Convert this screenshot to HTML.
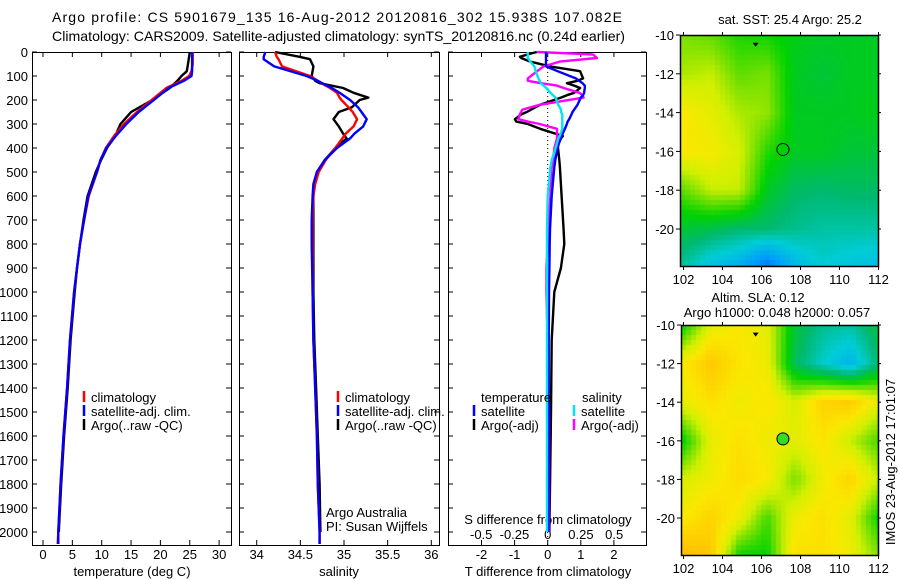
<!DOCTYPE html>
<html><head><meta charset="utf-8">
<style>
html,body{margin:0;padding:0;background:#fff;}
#wrap{position:relative;width:900px;height:580px;overflow:hidden;font-family:"Liberation Sans",sans-serif;}
canvas{position:absolute;}
svg{position:absolute;left:0;top:0;}
svg text{font-family:"Liberation Sans",sans-serif;font-size:13px;fill:#000;}
</style></head>
<body>
<div id="wrap">
<canvas id="sstMap"></canvas>
<canvas id="slaMap"></canvas>
<svg id="fig" width="900" height="580"></svg>
</div>
<script>
// ---------- DATA ----------
const tempDepth = [0,50,80,100,120,150,200,250,300,350,400,450,500,600,700,800,900,1000,1200,1400,1600,1800,2000,2050];
const tempClim  = [25.5,25.5,25.3,24.9,23.6,21.0,18.5,16.0,13.8,12.1,10.7,9.8,9.2,7.8,7.0,6.3,5.8,5.3,4.6,4.1,3.5,3.0,2.6,2.5];
const tempSat   = [25.4,25.4,25.4,25.3,24.0,21.4,18.9,16.3,14.2,12.4,10.8,9.8,9.2,7.7,7.0,6.3,5.8,5.3,4.6,4.1,3.5,3.0,2.6,2.6];
const tempArgo  = [25.0,24.7,24.5,23.6,22.9,21.6,18.6,15.0,13.2,12.3,10.9,9.9,9.0,7.6,6.9,6.3,5.8,5.4,4.7,4.2,3.6,3.1,2.7,null];

const salDepth = [0,20,30,60,100,120,130,150,170,190,200,230,250,280,310,340,360,400,450,500,550,600,700,800,1000,1200,1400,1600,1800,2000,2050];
const salClim  = [34.21,34.23,34.25,34.29,34.61,34.70,34.74,34.84,34.92,34.95,34.97,35.05,35.10,35.15,35.11,35.02,34.98,34.90,34.79,34.71,34.67,34.65,34.64,34.64,34.64,34.65,34.67,34.69,34.70,34.72,34.72];
const salSat   = [34.10,34.08,34.08,34.20,34.57,34.70,34.75,34.86,34.95,35.03,35.07,35.16,35.20,35.26,35.22,35.12,35.07,34.92,34.78,34.69,34.65,34.64,34.63,34.63,34.64,34.65,34.67,34.69,34.70,34.72,34.72];
const salArgo  = [34.21,34.49,34.61,34.65,34.63,34.67,34.72,34.99,35.11,35.28,35.18,35.09,34.94,34.88,34.94,34.99,35.03,34.90,34.78,34.69,34.66,34.65,34.65,34.65,34.65,34.66,34.68,34.70,34.72,34.73,null];

const diffDepth = [0,10,20,25,40,60,80,110,120,130,140,150,170,180,190,220,240,250,260,280,290,300,320,350,360,380,400,450,480,600,740,800,900,1000,1200,1500,2000];
const dTSat  = [-0.05,-0.05,-0.05,-0.05,-0.05,-0.05,0.3,0.85,0.95,1.05,1.12,1.12,1.1,1.07,1.0,0.9,0.8,0.75,0.72,0.65,0.6,0.58,0.52,0.42,0.4,0.34,0.3,0.23,0.2,0.12,0.07,0.06,0.05,0.04,0.03,0.03,0.02];
const dTArgo = [-0.33,-0.6,-0.84,-0.8,-0.53,0.07,0.98,1.07,0.9,0.58,0.8,0.98,0.8,0.58,0.4,-0.23,-0.5,-0.63,-0.8,-0.99,-0.95,-0.6,-0.23,0.46,0.4,0.3,0.31,0.35,0.37,0.42,0.48,0.5,0.4,0.2,0.12,0.1,0.05];
const dSArgo = [-0.08,0.34,0.36,0.37,0.09,-0.03,-0.08,-0.15,-0.15,-0.05,0.07,0.12,0.24,0.26,0.27,-0.06,-0.19,-0.2,-0.21,-0.22,-0.15,-0.06,0.07,0.07,0.07,0.06,0.05,0.04,0.03,0.02,0.0,0.0,-0.01,-0.01,0.0,0.01,0.01];
const dSSat  = [-0.15,-0.15,-0.15,-0.15,-0.13,-0.1,-0.09,-0.07,-0.06,-0.05,-0.03,-0.01,0.02,0.04,0.06,0.08,0.1,0.1,0.11,0.11,0.11,0.11,0.11,0.09,0.08,0.07,0.06,0.03,0.02,0.0,-0.005,-0.005,-0.005,-0.005,-0.005,-0.005,-0.005];

const depthTicks = [0,100,200,300,400,500,600,700,800,900,1000,1100,1200,1300,1400,1500,1600,1700,1800,1900,2000];
const tempTicks = [0,5,10,15,20,25,30];
const salTicks = [34,34.5,35,35.5,36];
const salTickLabels = ["34","34.5","35","35.5","36"];
const dTTicks = [-2,-1,0,1,2];
const dSTicks = [-0.5,-0.25,0,0.25,0.5];
const dSTickLabels = ["-0.5","-0.25","0","0.25","0.5"];
const lonTicks = [102,104,106,108,110,112];
const latTicks = [-10,-12,-14,-16,-18,-20];

// map fields (rows lat -10..-22 step 2, cols lon 102..112 in 7 steps), normalised colour values
const sstGrid = [
 [.64,.62,.57,.56,.53,.52,.52,.52],
 [.68,.70,.62,.64,.52,.50,.52,.52],
 [.78,.74,.68,.66,.52,.52,.52,.53],
 [.78,.77,.72,.58,.52,.52,.50,.50],
 [.62,.70,.70,.52,.46,.45,.46,.46],
 [.50,.48,.45,.45,.42,.40,.40,.40],
 [.40,.30,.25,.12,.28,.35,.32,.30]];
const slaGrid = [
 [.55,.74,.78,.74,.50,.42,.40,.50],
 [.78,.86,.79,.76,.47,.36,.28,.45],
 [.75,.80,.76,.79,.72,.83,.85,.74],
 [.55,.75,.80,.76,.74,.79,.70,.60],
 [.72,.76,.81,.78,.64,.76,.83,.70],
 [.78,.83,.76,.60,.76,.80,.74,.55],
 [.90,.86,.55,.55,.80,.80,.76,.65]];
const floatLon = 107.1, floatLat = -15.9;
const markLon = 105.7, markLat = -10.5;

// ---------- HELPERS ----------
const NS = "http://www.w3.org/2000/svg";
const svg = document.getElementById('fig');
function mk(tag, attrs, parent){
  const e = document.createElementNS(NS, tag);
  for (const k in attrs) e.setAttribute(k, attrs[k]);
  (parent||svg).appendChild(e);
  return e;
}
function txt(x,y,s,anchor,name,extra){
  const t = mk('text',Object.assign({x:x,y:y,'text-anchor':anchor||'start'},extra||{}));
  t.textContent = s;
  
  
  return t;
}
const yTop = 52, pxPer100 = 24.0, plotBottom = 545;
function yD(d){ return yTop + d*pxPer100/100; }

function drawSeries(xs, depths, vals, color, name, width){
  let pts = [];
  for (let i=0;i<depths.length;i++){ if (vals[i]===null) continue; pts.push(xs(vals[i]).toFixed(1)+','+yD(depths[i]).toFixed(1)); }
  const p = mk('polyline',{points:pts.join(' '),fill:'none',stroke:color,'stroke-width':width||2.4,'stroke-linejoin':'round'});
  
  
}
function frame(x0,x1,name){
  const r = mk('rect',{x:x0+0.5,y:yTop+0.5,width:x1-x0,height:plotBottom-yTop,fill:'none',stroke:'#000','stroke-width':1});
  
  
}
function xTicks(xs, ticks, labels, name, topToo){
  ticks.forEach((v,i)=>{
    const x = xs(v);
    mk('line',{x1:x,y1:plotBottom,x2:x,y2:plotBottom-5,stroke:'#000'});
    if (topToo) mk('line',{x1:x,y1:yTop,x2:x,y2:yTop+5,stroke:'#000'});
    txt(x,559,labels[i],'middle',name);
  });
}
function yTicks(x0,x1){
  depthTicks.forEach(d=>{
    mk('line',{x1:x0,y1:yD(d),x2:x0+5,y2:yD(d),stroke:'#000'});
    mk('line',{x1:x1,y1:yD(d),x2:x1-5,y2:yD(d),stroke:'#000'});
  });
}
function legendMark(x,y,color,name){
  const l = mk('line',{x1:x,y1:y-11,x2:x,y2:y,stroke:color,'stroke-width':2.5});
  
  
}

// ---------- TITLE ----------
txt(52,22,"Argo profile: CS 5901679_135 16-Aug-2012 20120816_302 15.938S 107.082E",'start','title-line-1',{textLength:570,lengthAdjust:'spacing',style:'font-size:14px'});
txt(52,41,"Climatology: CARS2009. Satellite-adjusted climatology: synTS_20120816.nc (0.24d earlier)",'start','title-line-2',{textLength:573,lengthAdjust:'spacingAndGlyphs',style:'font-size:14px'});

// ---------- PANEL 1: temperature ----------
const xT = v => 43 + v*5.87;
frame(32,231,'temperature-plot-frame');
yTicks(32,231);
depthTicks.forEach(d=>txt(28,yD(d)+5,String(d),'end','depth-tick-label'));
xTicks(xT,tempTicks,tempTicks.map(String),'temperature-tick-label',true);
txt(132,576,"temperature (deg C)",'middle','temperature-axis-title');
drawSeries(xT,tempDepth,tempArgo,'#000','temperature-argo-line');
drawSeries(xT,tempDepth,tempClim,'#ff0000','temperature-climatology-line');
drawSeries(xT,tempDepth,tempSat,'#0000ff','temperature-satellite-line');
legendMark(84,402,'#ff0000','legend-climatology-mark'); txt(91,402,"climatology",'start','legend-climatology');
legendMark(84,416,'#0000ff','legend-satellite-mark'); txt(91,416,"satellite-adj. clim.",'start','legend-satellite');
legendMark(84,430,'#000','legend-argo-mark'); txt(91,430,"Argo(..raw -QC)",'start','legend-argo');

// ---------- PANEL 2: salinity ----------
const xS = v => 256.7 + (v-34)*87.3;
frame(239,439,'salinity-plot-frame');
yTicks(239,439);
xTicks(xS,salTicks,salTickLabels,'salinity-tick-label',true);
txt(339,576,"salinity",'middle','salinity-axis-title');
drawSeries(xS,salDepth,salArgo,'#000','salinity-argo-line');
drawSeries(xS,salDepth,salClim,'#ff0000','salinity-climatology-line');
drawSeries(xS,salDepth,salSat,'#0000ff','salinity-satellite-line');
legendMark(338,402,'#ff0000','legend-climatology-mark-2'); txt(345,402,"climatology",'start','legend-climatology-2');
legendMark(338,416,'#0000ff','legend-satellite-mark-2'); txt(345,416,"satellite-adj. clim.",'start','legend-satellite-2');
legendMark(338,430,'#000','legend-argo-mark-2'); txt(345,430,"Argo(..raw -QC)",'start','legend-argo-2');
txt(326,517,"Argo Australia",'start','argo-australia-label');
txt(326,531,"PI: Susan Wijffels",'start','pi-label');

// ---------- PANEL 3: differences ----------
const xdT = v => 547.7 + v*33.1;
const xdS = v => 547.7 + v*133;
frame(448,646,'difference-plot-frame');
yTicks(448,646);
xTicks(xdT,dTTicks,dTTicks.map(String),'t-difference-tick-label',true);
dSTicks.forEach((v,i)=>txt(xdS(v),539,dSTickLabels[i],'middle','s-difference-tick-label'));
txt(548,524,"S difference from climatology",'middle','s-difference-axis-title');
txt(548,576,"T difference from climatology",'middle','t-difference-axis-title');
const zl = mk('line',{x1:xdT(0),y1:yTop,x2:xdT(0),y2:plotBottom,stroke:'#000','stroke-dasharray':'1,3'});
 
drawSeries(xdT,diffDepth,dTArgo,'#000','t-diff-argo-line');
drawSeries(xdS,diffDepth,dSArgo,'#ff00ff','s-diff-argo-line');
drawSeries(xdT,diffDepth,dTSat,'#0000ff','t-diff-satellite-line');
drawSeries(xdS,diffDepth,dSSat,'#00e5ee','s-diff-satellite-line');
txt(481,402,"temperature",'start','legend-temperature-header');
legendMark(474,416,'#0000ff','legend-t-satellite-mark'); txt(481,416,"satellite",'start','legend-t-satellite');
legendMark(474,430,'#000','legend-t-argo-mark'); txt(481,430,"Argo(-adj)",'start','legend-t-argo');
txt(582,402,"salinity",'start','legend-salinity-header');
legendMark(574,416,'#00e5ee','legend-s-satellite-mark'); txt(581,416,"satellite",'start','legend-s-satellite');
legendMark(574,430,'#ff00ff','legend-s-argo-mark'); txt(581,430,"Argo(-adj)",'start','legend-s-argo');

// ---------- MAPS ----------
const cmapStops = [[0,[0,40,190]],[0.2,[0,150,255]],[0.35,[0,205,215]],[0.45,[0,185,110]],[0.55,[0,210,0]],[0.64,[120,225,0]],[0.71,[210,240,0]],[0.78,[250,232,0]],[0.86,[255,200,0]],[1,[255,160,0]]];
function cmap(v){
  v=Math.max(0,Math.min(1,v));
  for(let i=1;i<cmapStops.length;i++){
    if(v<=cmapStops[i][0]){
      const a=cmapStops[i-1],b=cmapStops[i],t=(v-a[0])/(b[0]-a[0]);
      return 'rgb('+a[1].map((c,k)=>Math.round(c+(b[1][k]-c)*t)).join(',')+')';
    }
  }
  return 'rgb(255,160,0)';
}
function sample(grid,lon,lat){
  const c=(lon-102)/(10/7), r=(-10-lat)/2;
  const c0=Math.max(0,Math.min(6,Math.floor(c))), r0=Math.max(0,Math.min(5,Math.floor(r)));
  const tc=Math.max(0,Math.min(1,c-c0)), tr=Math.max(0,Math.min(1,r-r0));
  const g=grid;
  return (g[r0][c0]*(1-tc)+g[r0][c0+1]*tc)*(1-tr)+(g[r0+1][c0]*(1-tc)+g[r0+1][c0+1]*tc)*tr;
}
function drawMap(id,grid,x0,x1,y0,y1,latPx,name,title1,title2,filledDot){
  const cv=document.getElementById(id);
  cv.width=x1-x0; cv.height=y1-y0; cv.style.left=x0+'px'; cv.style.top=y0+'px';
  const ctx=cv.getContext('2d');
  const lonX = lon => 683.5 + (lon-102)*19.5;
  const latY = lat => y0 + (-10-lat)*latPx;
  const cell=5;
  for(let y=0;y<cv.height;y+=cell){
    for(let x=0;x<cv.width;x+=cell){
      const lon=102+(x0+x+cell/2-683.5)/19.5, lat=-10-(y+cell/2)/latPx;
      ctx.fillStyle=cmap(sample(grid,lon,lat));
      ctx.fillRect(x,y,cell,cell);
    }
  }
  const r=mk('rect',{x:x0+0.5,y:y0+0.5,width:x1-x0,height:y1-y0,fill:'none',stroke:'#000','stroke-width':1.5});
   
  lonTicks.forEach(v=>{ const x=lonX(v); mk('line',{x1:x,y1:y1,x2:x,y2:y1+4,stroke:'#000'}); mk('line',{x1:x,y1:y0,x2:x,y2:y0-3,stroke:'#000'}); txt(x,y1+18,String(v),'middle',name+'-lon-tick-label'); });
  latTicks.forEach(v=>{ const y=latY(v); mk('line',{x1:x0,y1:y,x2:x0-4,y2:y,stroke:'#000'}); mk('line',{x1:x1,y1:y,x2:x1+3,y2:y,stroke:'#000'}); txt(x0-6,y+5,String(v),'end',name+'-lat-tick-label'); });
  const c=mk('circle',{cx:lonX(floatLon),cy:latY(floatLat),r:6,fill:filledDot?'#33dd22':'none',stroke:'#000','stroke-width':1});
   
  const mx=lonX(markLon), my=latY(markLat);
  const tri=mk('polygon',{points:(mx-3)+','+(my-2)+' '+(mx+3)+','+(my-2)+' '+mx+','+(my+2),fill:'#000'});
   
  if(title2){ txt(758,y0-23,title1,'middle',name+'-title-1'); txt(777,y0-8,title2,'middle',name+'-title-2'); }
  else txt(790,y0-11,title1,'middle',name+'-title');
}
drawMap('sstMap',sstGrid,680,878,35,266,19.4,'sst-map',"sat. SST: 25.4 Argo: 25.2");
drawMap('slaMap',slaGrid,681,878,325,555,19.3,'sla-map',"Altim. SLA: 0.12","Argo h1000: 0.048 h2000: 0.057",true);

txt(0,0,"IMOS 23-Aug-2012 17:01:07",'middle','imos-timestamp',{transform:'translate(895,462) rotate(-90)'});
</script>
</body></html>
